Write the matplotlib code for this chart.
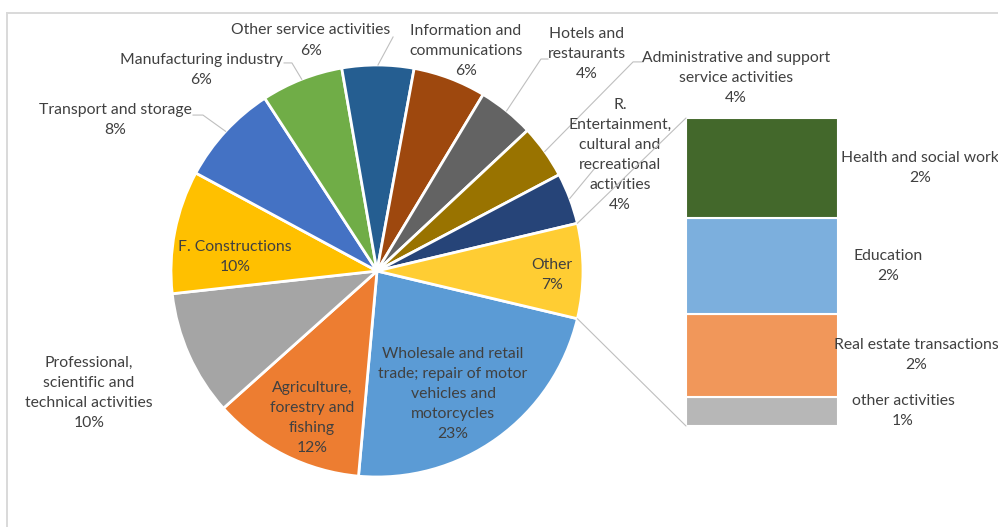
import matplotlib.pyplot as plt
import numpy as np
from matplotlib.patches import ConnectionPatch
from matplotlib.lines import Line2D

plt.rcParams['font.family'] = ['Lato', 'DejaVu Sans']
plt.rcParams['font.size'] = 11.3
TXT = '#404040'
GRID = '#BFBFBF'
LS = 1.55

# pie slices, clockwise from the "Other" slice
pie_labels = ["Wholesale and retail\ntrade; repair of motor\nvehicles and\nmotorcycles",
              "Agriculture,\nforestry and\nfishing",
              "Professional,\nscientific and\ntechnical activities",
              "F. Constructions",
              "Transport and storage",
              "Manufacturing industry",
              "Other service activities",
              "Information and\ncommunications",
              "Hotels and\nrestaurants",
              "Administrative and support\nservice activities",
              "R.\nEntertainment,\ncultural and\nrecreational\nactivities"]
pie_values = [22.6, 11.9, 9.8, 9.6, 7.9, 6.4, 5.6, 5.7, 4.4, 4.2, 4.0]
pie_colors = ['#5B9BD5', '#ED7D31', '#A5A5A5', '#FFC000', '#4472C4', '#70AD47',
              '#255E91', '#9E480E', '#636363', '#997300', '#264478']

# breakdown of the "Other" slice, top to bottom
bar_labels = ["Health and social work", "Education", "Real estate transactions", "other activities"]
bar_values = [2.4, 2.3, 2.0, 0.7]
bar_colors = ['#43682B', '#7CAFDD', '#F1975A', '#B7B7B7']

other_label = "Other"
other_color = '#FFCD33'
other_value = sum(bar_values)

W, H = 998, 527
fig = plt.figure(figsize=(W / 100, H / 100), dpi=100)

# chart area border (top and left edges only are inside the image)
fig.add_artist(Line2D([7 / W, 1], [1 - 12.5 / H] * 2, transform=fig.transFigure,
                      color='#D9D9D9', lw=1.4))
fig.add_artist(Line2D([6.5 / W] * 2, [0, 1 - 12.5 / H], transform=fig.transFigure,
                      color='#D9D9D9', lw=1.4))

# --- pie ---
cx, cy, r = 377, 271, 206
ax_pie = fig.add_axes([(cx - r) / W, (H - cy - r) / H, 2 * r / W, 2 * r / H])
values = pie_values + [other_value]
labels = pie_labels + [other_label]
colors = pie_colors + [other_color]
total = sum(values)
start = -other_value / total * 360 / 2
wedges, _ = ax_pie.pie(values, colors=colors, startangle=start, counterclock=False,
                       radius=1, wedgeprops=dict(edgecolor='white', linewidth=2))
ax_pie.set_xlim(-1, 1)
ax_pie.set_ylim(-1, 1)
ax_pie.axis('off')

# label centres in pie units
label_pos = [(0.369, -0.597), (-0.316, -0.714), (-1.398, -0.592), (-0.689, 0.068),
             (-1.272, 0.733), (-0.854, 0.978), (-0.320, 1.119), (0.432, 1.068),
             (1.019, 1.053), (1.743, 0.937), (1.180, 0.563), (0.850, -0.019)]
# leader line anchor points near the outside labels
leaders = {4: [(-0.893, 0.757), (-0.845, 0.757)],
           5: [(-0.451, 1.010), (-0.413, 1.010)],
           6: [(0.078, 1.136)],
           8: [(0.830, 1.029), (0.796, 1.029)],
           9: [(1.291, 1.015), (1.243, 1.015)],
           10: [(1.058, 0.500)]}

for i, (w, lab, v) in enumerate(zip(wedges, labels, values)):
    x, y = label_pos[i]
    ax_pie.text(x, y, f"{lab}\n{v:.0f}%", ha='center', va='center', color=TXT,
                linespacing=LS, clip_on=False)
    if i in leaders:
        mid = np.deg2rad((w.theta1 + w.theta2) / 2)
        pts = leaders[i] + [(np.cos(mid), np.sin(mid))]
        xs, ys = zip(*pts)
        ax_pie.plot(xs, ys, color=GRID, lw=0.8, clip_on=False)

# --- bar of the "Other" slice ---
bx0, bx1, by0, by1 = 686, 838, 118, 426
ax_bar = fig.add_axes([bx0 / W, (H - by1) / H, (bx1 - bx0) / W, (by1 - by0) / H])
bottom = 0
label_x = [1.539, 1.329, 1.513, 1.428]
for lab, v, c, lx in reversed(list(zip(bar_labels, bar_values, bar_colors, label_x))):
    ax_bar.bar(0.5, v, width=1, bottom=bottom, color=c, edgecolor='white', linewidth=1.5)
    ax_bar.text(lx, bottom + v / 2, f"{lab}\n{v:.0f}%", transform=ax_bar.get_yaxis_transform(),
                ha='center', va='center', color=TXT, linespacing=LS, clip_on=False)
    bottom += v
ax_bar.set_xlim(0, 1)
ax_bar.set_ylim(0, other_value)
ax_bar.axis('off')

# series lines joining the slice to the bar
w_other = wedges[-1]
for ang, yb in [(w_other.theta2, other_value), (w_other.theta1, 0)]:
    a = np.deg2rad(ang)
    con = ConnectionPatch(xyA=(np.cos(a), np.sin(a)), coordsA=ax_pie.transData,
                          xyB=(0, yb), coordsB=ax_bar.transData, color=GRID, lw=0.8)
    fig.add_artist(con)

fig.savefig('out.png', dpi=100)
